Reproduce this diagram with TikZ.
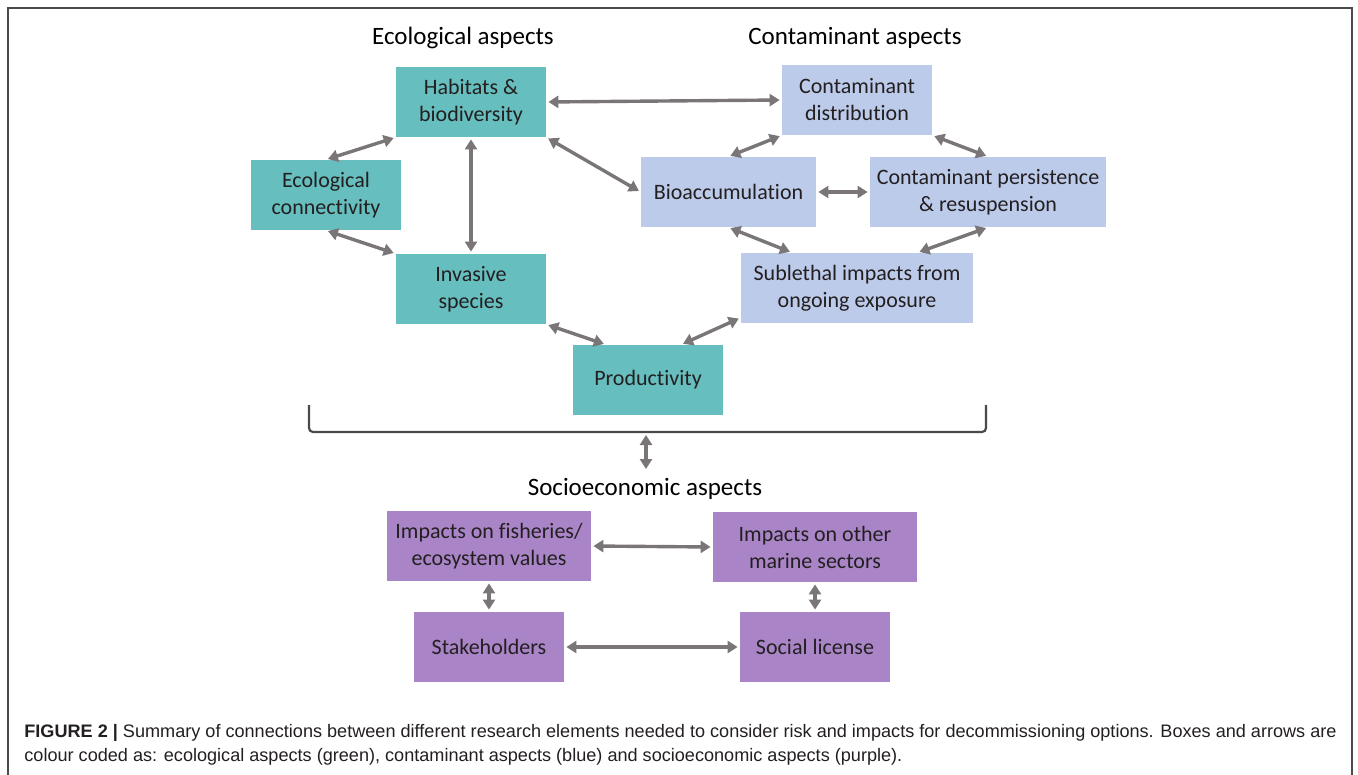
\documentclass[tikz,border=0pt]{standalone}
\usepackage{fontspec}
\setmainfont{Carlito}[Ligatures=NoCommon]
\newfontfamily\capfont{Liberation Sans}
\usetikzlibrary{arrows.meta,calc}
\definecolor{teal1}{HTML}{67BEBE}
\definecolor{blue1}{HTML}{BDCBEB}
\definecolor{purp1}{HTML}{A985C8}
\definecolor{arr}{HTML}{7A7576}
\definecolor{txt}{HTML}{231F20}
\definecolor{framec}{HTML}{4A4A4A}
\tikzset{
 box/.style={minimum width=75pt, minimum height=35pt, inner sep=0pt, align=center, font=\fontsize{11}{13.5}\selectfont, text=txt},
 eco/.style={box, fill=teal1},
 con/.style={box, fill=blue1},
 soc/.style={box, fill=purp1},
 link/.style={draw=arr, line width=1.7pt, {Triangle[length=5pt,width=6pt]}-{Triangle[length=5pt,width=6pt]}, shorten <=1pt, shorten >=1pt},
 head/.style={font=\fontsize{12.5}{14}\selectfont, text=black, inner sep=0pt},
 bracketline/.style={draw=framec, line width=1.1pt, rounded corners=2pt},
}
\begin{document}
\begin{tikzpicture}[x=0.5pt,y=-0.5pt]
\useasboundingbox (0,0) rectangle (1358,775);
% frame
\coordinate (f1) at (8,775);
\coordinate (f2) at (8,8);
\coordinate (f3) at (1352,8);
\coordinate (f4) at (1352,775);
\draw[framec, line width=1pt] (f1) -- (f2) -- (f3) -- (f4);
% headings
\node[head] (hEco) at (463,38) {Ecological aspects};
\node[head] (hCon) at (855,38) {Contaminant aspects};
\node[head] (hSoc) at (645,489) {Socioeconomic aspects};
% ecological
\node[eco] (hab) at (471,102) {Habitats \&\\biodiversity};
\node[eco] (eco) at (326,195) {Ecological\\connectivity};
\node[eco] (inv) at (471,289) {Invasive\\species};
\node[eco] (prod) at (648,380) {Productivity};
% contaminant
\node[con] (cd) at (857,100) {Contaminant\\distribution};
\node[con, minimum width=87.5pt] (bio) at (728.5,192) {Bioaccumulation};
\node[con, minimum width=118pt] (pers) at (988,192) {Contaminant persistence\\\& resuspension};
\node[con, minimum width=116pt] (sub) at (857,288) {Sublethal impacts from\\ongoing exposure};
% socioeconomic
\node[soc, minimum width=102pt] (fish) at (489,546) {Impacts on fisheries/\\ecosystem values};
\node[soc, minimum width=102pt] (oth) at (815,547) {Impacts on other\\marine sectors};
\node[soc] (stake) at (489,647) {Stakeholders};
\node[soc] (soc) at (815,647) {Social license};
% links
\draw[link] (hab.east) -- (cd.west);
\draw[link] (hab.south west) -- (eco.north);
\draw[link] (hab.south) -- (inv.north);
\draw[link] (hab.south east) -- (bio.west);
\draw[link] (eco.south) -- (inv.north west);
\draw[link] (inv.south east) -- ($(prod.north west)!0.22!(prod.north east)$);
\draw[link] ($(prod.north west)!0.72!(prod.north east)$) -- ($(sub.south west)!0.08!(sub.north west)$);
\draw[link] (cd.south west) -- (bio.north);
\draw[link] (cd.south east) -- (pers.north);
\draw[link] (bio.east) -- (pers.west);
\draw[link] (bio.south) -- ($(sub.north west)!0.22!(sub.north east)$);
\draw[link] (pers.south) -- ($(sub.north west)!0.76!(sub.north east)$);
% bracket
\coordinate (bl) at (309,405);
\coordinate (blb) at (309,432);
\coordinate (brb) at (986,432);
\coordinate (br) at (986,405);
\coordinate (bm) at (646,433);
\coordinate (bs) at (646,471);
\draw[bracketline] (bl) -- (blb) -- (brb) -- (br);
\draw[link] (bm) -- (bs);
% socio links
\draw[link] (fish.east) -- (oth.west);
\draw[link] (fish.south) -- (stake.north);
\draw[link] (oth.south) -- (soc.north);
\draw[link] (stake.east) -- (soc.west);
% caption
\node[anchor=north west, inner sep=0pt, align=left, text=txt, font=\capfont\fontsize{9.05}{12.2}\selectfont] (cap) at (24,724)
 {\textbf{FIGURE 2 |} Summary of connections between different research elements needed to consider risk and impacts for decommissioning options. Boxes and arrows are\\colour coded as: ecological aspects (green), contaminant aspects (blue) and socioeconomic aspects (purple).};
\end{tikzpicture}
\end{document}
